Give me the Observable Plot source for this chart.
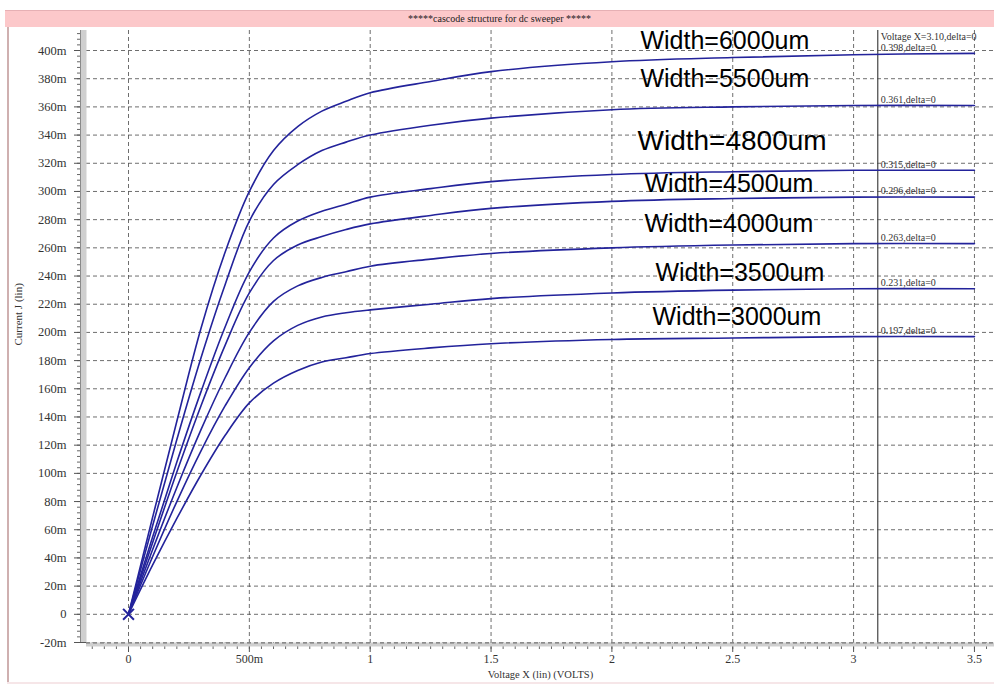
<!DOCTYPE html>
<html>
<head>
<meta charset="utf-8">
<script src="https://cdn.jsdelivr.net/npm/d3@7"></script>
<script src="https://cdn.jsdelivr.net/npm/@observablehq/plot@0.6"></script>
<style>
  body { margin: 0; background: #fff; }
  #wrap { position: relative; width: 994px; height: 684px; overflow: hidden; background: #fff; }
  #titlebar { position: absolute; left: 5px; top: 10px; width: 989px; height: 16px; background: #fcc8ca;
    border-top: 1px solid #e6b0b4; font: 10px "Liberation Serif", serif; color: #222; text-align: center; line-height: 16px; }
  #chart { position: absolute; left: 0; top: 27px; }
  #leftedge { position: absolute; left: 7px; top: 27px; width: 2px; height: 657px; background: #cfb0b0; }
  #bottomedge { position: absolute; left: 7px; top: 682px; width: 987px; height: 2px; background: #f6e6e8; }
</style>
</head>
<body>
<div id="wrap">
  <div id="titlebar">*****cascode structure for dc sweeper *****</div>
  <div id="leftedge"></div>
  <div id="bottomedge"></div>
  <div id="chart"></div>
</div>
<script>
// Sweep voltage (V)
const voltage = [0, 0.1, 0.2, 0.3, 0.4, 0.5, 0.6, 0.7, 0.8, 0.9, 1.0, 1.25, 1.5, 2.0, 2.5, 3.0, 3.5];
// Series names
const widths = ["Width=6000um", "Width=5500um", "Width=4800um", "Width=4500um", "Width=4000um", "Width=3500um", "Width=3000um"];
// Currents (mA)
const w6000 = [0, 69, 137, 203, 257, 300, 329, 346, 357, 364, 370, 378, 385, 392, 395, 397, 398];
const w5500 = [0, 63, 124, 182, 234, 279, 305, 319, 329, 335, 340, 347, 352, 358, 360, 361, 361];
const w4800 = [0, 55, 108, 158, 204, 243, 267, 279, 286, 291, 296, 302, 307, 312, 314, 315, 315];
const w4500 = [0, 51, 101, 148, 191, 228, 251, 262, 268, 273, 277, 283, 288, 293, 295, 296, 296];
const w4000 = [0, 46, 90, 131, 168, 200, 222, 233, 239, 243, 247, 252, 256, 260, 262, 263, 263];
const w3500 = [0, 41, 80, 116, 148, 175, 194, 205, 211, 214, 216, 220, 224, 228, 230, 231, 231];
const w3000 = [0, 35, 68, 99, 127, 150, 164, 173, 179, 182, 185, 189, 192, 195, 196, 197, 197];
// Cursor readout values (A) at the cursor
const cursorV = 3.1;
const cursorReadout = [0.398, 0.361, 0.315, 0.296, 0.263, 0.231, 0.197];
// Tick labels
const xTicks = [0, 0.5, 1, 1.5, 2, 2.5, 3, 3.5];
const xTickLabels = ["0", "500m", "1", "1.5", "2", "2.5", "3", "3.5"];
const yTicks = d3.range(-20, 401, 20);

// Label placement (annotation layout)
const labelX = [2.118, 2.118, 2.106, 2.135, 2.135, 2.18, 2.168];
const labelY = [407, 380, 336, 305, 277, 242.5, 211];
const labelSize = [25, 25, 28, 25, 25, 25, 25];

const seriesVals = [w6000, w5500, w4800, w4500, w4000, w3500, w3000];
const rows = widths.flatMap((w, i) => voltage.map((v, j) => ({series: w, v, i: seriesVals[i][j]})));
const finals = widths.map((w, i) => ({series: w, v: voltage[voltage.length - 1], i: seriesVals[i][seriesVals[i].length - 1], r: cursorReadout[i]}));

const xMin = -0.1738, xMax = 3.583, yMin = -20, yMax = 414.2;
const blue = "#23239b";

const chart = Plot.plot({
  width: 994,
  height: 657,
  marginLeft: 86,
  marginRight: 0,
  marginTop: 3,
  marginBottom: 42,
  style: {background: "transparent", fontFamily: "Liberation Serif, serif", color: "#333"},
  x: {domain: [xMin, xMax], label: null},
  y: {domain: [yMin, yMax], label: null},
  marks: [
    Plot.gridY(yTicks, {stroke: "#555", strokeOpacity: 0.85, strokeDasharray: "4,3"}),
    Plot.gridX(xTicks, {stroke: "#555", strokeOpacity: 0.85, strokeDasharray: "4,3"}),
    // minor ticks
    Plot.axisY(d3.range(-20, 414, 4), {tickSize: 9, tickFormat: () => "", label: null, stroke: "#666"}),
    Plot.axisX(d3.range(-0.15, 3.58, 0.05), {tickSize: 7, tickFormat: () => "", label: null, stroke: "#666"}),
    // major ticks + labels
    Plot.axisY(yTicks, {tickSize: 12, tickPadding: 8, fontSize: 12.5, label: null, stroke: "#555",
      tickFormat: d => d === 0 ? "0" : d + "m"}),
    Plot.axisX(xTicks, {tickSize: 10, tickPadding: 2, fontSize: 12, label: null, stroke: "#555",
      tickFormat: d => xTickLabels[xTicks.indexOf(d)]}),
    // frame bands
    Plot.ruleX([xMin], {stroke: "#cfcfcf", strokeWidth: 6, dx: -3}),
    Plot.ruleX([xMin], {stroke: "#8a8a8a", strokeWidth: 1, dx: -6}),
    Plot.ruleY([yMin], {stroke: "#cfcfcf", strokeWidth: 4, dy: 2}),
    Plot.ruleY([yMin], {stroke: "#777", strokeWidth: 1, strokeDasharray: "4,3", dy: 0.5}),
    // cursor
    Plot.ruleX([cursorV], {stroke: "#444", strokeWidth: 1.2}),
    // curves
    Plot.line(rows, {x: "v", y: "i", z: "series", stroke: blue, strokeWidth: 1.6, curve: "catmull-rom"}),
    Plot.dot([{v: 0, i: 0}], {x: "v", y: "i", symbol: "times", r: 5, stroke: blue, strokeWidth: 2}),
    // cursor readouts
    Plot.text(finals, {x: cursorV, y: "i", text: d => d.r.toFixed(3) + ",delta=0", textAnchor: "start",
      dx: 3, dy: -6, fontSize: 10, fill: "#333"}),
    Plot.text([`Voltage X=${cursorV.toFixed(2)},delta=0`], {x: cursorV, y: yMax, text: d => d, textAnchor: "start",
      dx: 3, dy: 6, fontSize: 10, fill: "#333"}),
    // width labels
    Plot.text(widths, {x: labelX, y: labelY, text: d => d, textAnchor: "start",
      fontFamily: "Liberation Sans, Arial, sans-serif", fontSize: (d, i) => labelSize[i], fill: "#000"}),
    // axis titles
    Plot.text(["Voltage X (lin) (VOLTS)"], {frameAnchor: "bottom", text: d => d, dy: 35, fontSize: 10.5, fill: "#333"}),
    Plot.text(["Current J (lin)"], {frameAnchor: "left", text: d => d, rotate: -90, dx: -68, dy: 9, fontSize: 11, fill: "#333"})
  ]
});
document.getElementById("chart").appendChild(chart);
</script>
</body>
</html>
